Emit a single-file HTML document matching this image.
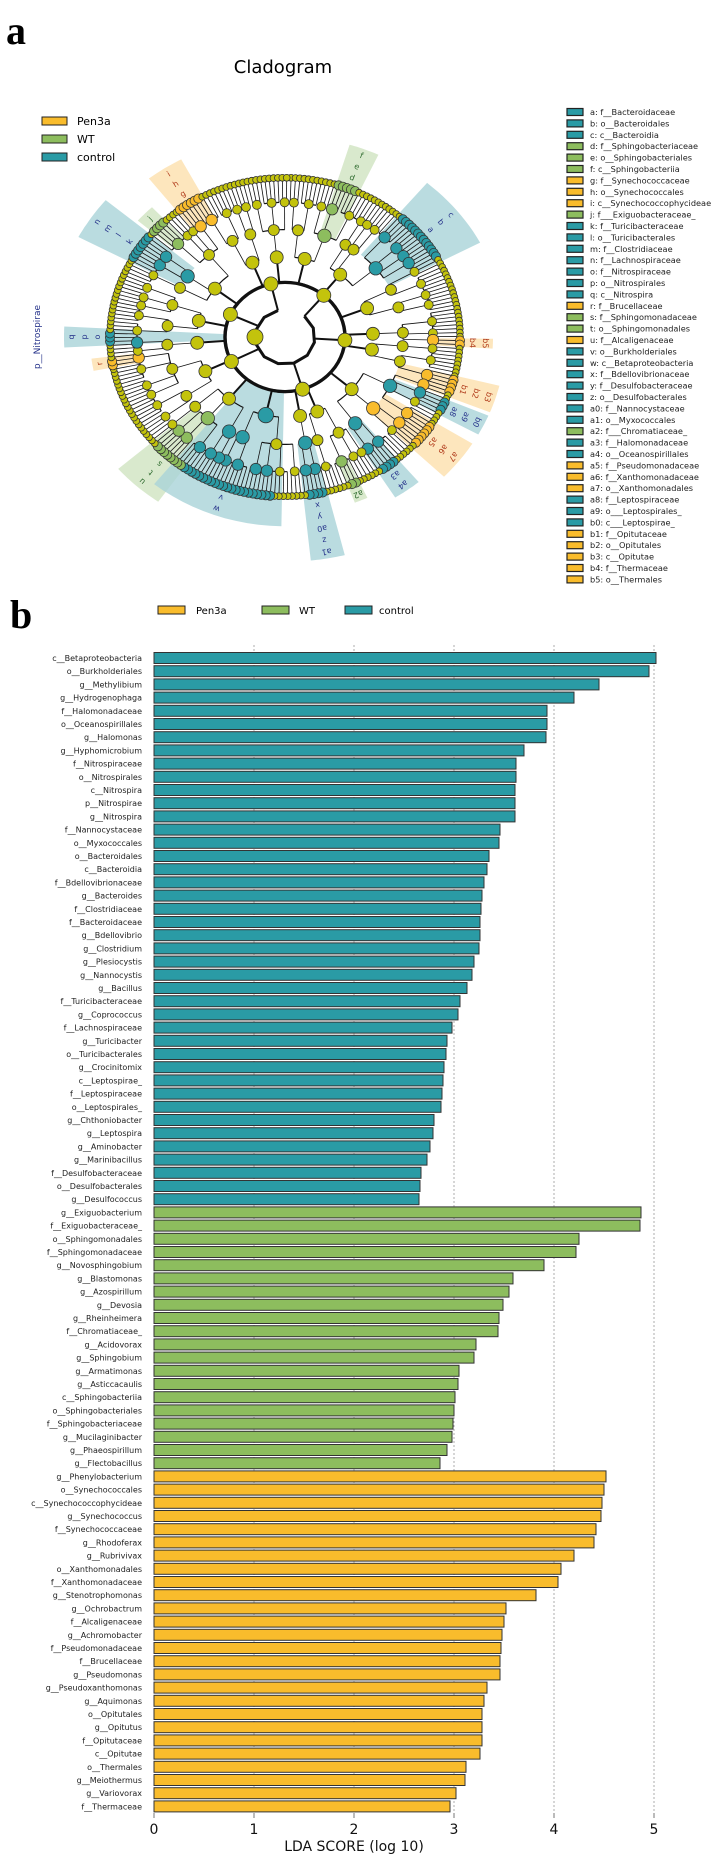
<!DOCTYPE html>
<html><head><meta charset="utf-8"><style>
body{margin:0;background:#fff}
svg{display:block;font-family:"DejaVu Sans","Liberation Sans",sans-serif}
</style></head><body>
<svg id="root" width="720" height="1856" viewBox="0 0 720 1856" xmlns="http://www.w3.org/2000/svg">
<text x="6" y="44" font-family="Liberation Serif,serif" font-weight="bold" font-size="40">a</text>
<text x="283" y="73" text-anchor="middle" font-size="18">Cladogram</text>
<g id="clad"></g>
<g>
<rect x="42" y="117" width="25" height="8" fill="#f9bc2c" stroke="#222"/><text x="77" y="125" font-size="11">Pen3a</text>
<rect x="42" y="135" width="25" height="8" fill="#8dbd5e" stroke="#222"/><text x="77" y="143" font-size="11">WT</text>
<rect x="42" y="153" width="25" height="8" fill="#2a9ba5" stroke="#222"/><text x="77" y="161" font-size="11">control</text>
</g>
<g id="taxleg"></g>
<text x="10" y="628" font-family="Liberation Serif,serif" font-weight="bold" font-size="40">b</text>
<g>
<rect x="158" y="606" width="27" height="8" fill="#f9bc2c" stroke="#222"/><text x="196" y="614" font-size="10">Pen3a</text>
<rect x="262" y="606" width="27" height="8" fill="#8dbd5e" stroke="#222"/><text x="299" y="614" font-size="10">WT</text>
<rect x="345" y="606" width="27" height="8" fill="#2a9ba5" stroke="#222"/><text x="379" y="614" font-size="10">control</text>
</g>
<g id="bars"></g>
</svg>
<script>
// ---------- LDA bar chart data ----------
const taxa = ["c__Betaproteobacteria","o__Burkholderiales","g__Methylibium","g__Hydrogenophaga","f__Halomonadaceae","o__Oceanospirillales","g__Halomonas","g__Hyphomicrobium","f__Nitrospiraceae","o__Nitrospirales","c__Nitrospira","p__Nitrospirae","g__Nitrospira","f__Nannocystaceae","o__Myxococcales","o__Bacteroidales","c__Bacteroidia","f__Bdellovibrionaceae","g__Bacteroides","f__Clostridiaceae","f__Bacteroidaceae","g__Bdellovibrio","g__Clostridium","g__Plesiocystis","g__Nannocystis","g__Bacillus","f__Turicibacteraceae","g__Coprococcus","f__Lachnospiraceae","g__Turicibacter","o__Turicibacterales","g__Crocinitomix","c__Leptospirae_","f__Leptospiraceae","o__Leptospirales_","g__Chthoniobacter","g__Leptospira","g__Aminobacter","g__Marinibacillus","f__Desulfobacteraceae","o__Desulfobacterales","g__Desulfococcus",
"g__Exiguobacterium","f__Exiguobacteraceae_","o__Sphingomonadales","f__Sphingomonadaceae","g__Novosphingobium","g__Blastomonas","g__Azospirillum","g__Devosia","g__Rheinheimera","f__Chromatiaceae_","g__Acidovorax","g__Sphingobium","g__Armatimonas","g__Asticcacaulis","c__Sphingobacteriia","o__Sphingobacteriales","f__Sphingobacteriaceae","g__Mucilaginibacter","g__Phaeospirillum","g__Flectobacillus",
"g__Phenylobacterium","o__Synechococcales","c__Synechococcophycideae","g__Synechococcus","f__Synechococcaceae","g__Rhodoferax","g__Rubrivivax","o__Xanthomonadales","f__Xanthomonadaceae","g__Stenotrophomonas","g__Ochrobactrum","f__Alcaligenaceae","g__Achromobacter","f__Pseudomonadaceae","f__Brucellaceae","g__Pseudomonas","g__Pseudoxanthomonas","g__Aquimonas","o__Opitutales","g__Opitutus","f__Opitutaceae","c__Opitutae","o__Thermales","g__Meiothermus","g__Variovorax","f__Thermaceae"];
const ldaScores = [5.02,4.95,4.45,4.2,3.93,3.93,3.92,3.7,3.62,3.62,3.61,3.61,3.61,3.46,3.45,3.35,3.33,3.3,3.28,3.27,3.26,3.26,3.25,3.2,3.18,3.13,3.06,3.04,2.98,2.93,2.92,2.9,2.89,2.88,2.87,2.8,2.79,2.76,2.73,2.67,2.66,2.65,
4.87,4.86,4.25,4.22,3.9,3.59,3.55,3.49,3.45,3.44,3.22,3.2,3.05,3.04,3.01,3.0,2.99,2.98,2.93,2.86,
4.52,4.5,4.48,4.47,4.42,4.4,4.2,4.07,4.04,3.82,3.52,3.5,3.48,3.47,3.46,3.46,3.33,3.3,3.28,3.28,3.28,3.26,3.12,3.11,3.02,2.96];
const groupSizes = [42,20,26];
const groupNames = ["control","WT","Pen3a"];
const xTicks = [0,1,2,3,4,5];

// ---------- Cladogram taxa legend ----------
const legendKeys = ["a","b","c","d","e","f","g","h","i","j","k","l","m","n","o","p","q","r","s","t","u","v","w","x","y","z","a0","a1","a2","a3","a4","a5","a6","a7","a8","a9","b0","b1","b2","b3","b4","b5"];
const legendTaxa = ["f__Bacteroidaceae","o__Bacteroidales","c__Bacteroidia","f__Sphingobacteriaceae","o__Sphingobacteriales","c__Sphingobacteriia","f__Synechococcaceae","o__Synechococcales","c__Synechococcophycideae","f___Exiguobacteraceae_","f__Turicibacteraceae","o__Turicibacterales","f__Clostridiaceae","f__Lachnospiraceae","f__Nitrospiraceae","o__Nitrospirales","c__Nitrospira","f__Brucellaceae","f__Sphingomonadaceae","o__Sphingomonadales","f__Alcaligenaceae","o__Burkholderiales","c__Betaproteobacteria","f__Bdellovibrionaceae","f__Desulfobacteraceae","o__Desulfobacterales","f__Nannocystaceae","o__Myxococcales","f___Chromatiaceae_","f__Halomonadaceae","o__Oceanospirillales","f__Pseudomonadaceae","f__Xanthomonadaceae","o__Xanthomonadales","f__Leptospiraceae","o___Leptospirales_","c___Leptospirae_","f__Opitutaceae","o__Opitutales","c__Opitutae","f__Thermaceae","o__Thermales"];
const legendGroups = ["C","C","C","W","W","W","P","P","P","W","C","C","C","C","C","C","C","P","W","W","P","C","C","C","C","C","C","C","W","C","C","P","P","P","C","C","C","P","P","P","P","P"];

const cladeAngles = [-39,-69,-123,-136,-146,180,171,132,110,80,67,54,38,26,18,2];
const cladeHalf = [11,4,5,3,6,3,2,7,19,4,2,4,6,3,4,1.5];
const cladeStart = [118,118,148,148,118,60,148,118,60,118,148,118,118,118,118,148];
const cladeGroup = ["C","W","P","W","C","C","P","W","C","C","W","C","P","C","P","P"];
const cladeLabels = [["a","b","c"],["d","e","f"],["g","h","i"],["j"],["k","l","m","n"],["o","p","q"],["r"],["s","t","u"],["v","w"],["x","y","a0","z","a1"],["a2"],["a3","a4"],["a5","a6","a7"],["a8","a9","b0"],["b1","b2","b3"],["b4","b5"]];

const fillC = {C:"#2a9ba5",W:"#8dbd5e",P:"#f9bc2c"};
const lightC = {C:"#a9d3d8",W:"#cfe3c0",P:"#fde0ad"};
const textC = {C:"#27348b",W:"#2e6b2e",P:"#b03a1a"};
const NS="http://www.w3.org/2000/svg";
function mk(tag,attrs,parent){const e=document.createElementNS(NS,tag);for(const k in attrs)e.setAttribute(k,attrs[k]);parent.appendChild(e);return e;}

const tl=document.getElementById('taxleg');
legendKeys.forEach((k,i)=>{
  const y=112+i*11.4;
  const r=mk('rect',{x:567,y:y-3.5,width:16,height:7,fill:fillC[legendGroups[i]],stroke:"#222","stroke-width":1.2},tl);
  
  
  const t=mk('text',{x:590,y:y+3,"font-size":8.2,fill:"#222"},tl);
  t.textContent=k+": "+legendTaxa[i];
  
  
});

const cl=document.getElementById('clad');
const cx=285, cy=337, sy=0.91;
function P(r,a){const t=a*Math.PI/180;return [cx+r*Math.cos(t), cy+sy*r*Math.sin(t)];}
function sector(r0,r1,a0,a1){let pts=[];for(let a=a0;a<=a1+0.01;a+=(a1-a0)/12)pts.push(P(r1,a));for(let a=a1;a>=a0-0.01;a-=(a1-a0)/12)pts.push(P(r0,a));return pts.map(p=>p[0].toFixed(1)+","+p[1].toFixed(1)).join(" ");}
const hl=mk('g',{},cl);
cladeAngles.forEach((ac,i)=>{
  const h=cladeHalf[i], n=cladeLabels[i].length;
  const outer=182+n*13;
  const p=mk('polygon',{points:sector(cladeStart[i],outer,ac-h,ac+h),fill:lightC[cladeGroup[i]],opacity:0.8},hl);
  
  
  cladeLabels[i].forEach((lb,j)=>{
    const q=P(188+j*13,ac);
    const t=mk('text',{x:q[0],y:q[1]+3,"font-size":8,"text-anchor":"middle",fill:textC[cladeGroup[i]],transform:`rotate(${ac+90} ${q[0]} ${q[1]})`},hl);
    t.textContent=lb;
    
    
  });
});
{const q=P(245,180);const t=mk('text',{x:q[0],y:q[1],"font-size":9,"text-anchor":"middle",fill:"#27348b",transform:`rotate(-90 ${q[0]} ${q[1]})`},hl);t.textContent="p__Nitrospirae";

}
function groupAt(a){for(let i=0;i<cladeAngles.length;i++){let d=((a-cladeAngles[i])%360+540)%360-180;if(Math.abs(d)<=cladeHalf[i]*0.8)return {g:cladeGroup[i],s:cladeStart[i]};}return null;}
const radii=[175,148,118,88,60,30];
const pats=[[3,5,2,4,6,1,3,2,5,4,2,3],[2,3,1,2,4,2],[2,3,2,1],[3,2,4],[99]];
let level=[];const N=250;
for(let i=0;i<N;i++)level.push(i*360/N-88);
const lines=mk('g',{stroke:"#111","stroke-width":0.8,fill:"none"},cl);
const nodes=mk('g',{stroke:"#333","stroke-width":0.8},cl);
let allNodes=[];
level.forEach(a=>allNodes.push([175,a,3.4]));
for(let L=0;L<5;L++){
  const pat=pats[L];let next=[];let i=0,k=0;
  while(i<level.length){const sz=Math.min(pat[k%pat.length],level.length-i);const ch=level.slice(i,i+sz);const pa=ch.reduce((s,v)=>s+v,0)/sz;
    const rP=radii[L+1], rC=radii[L];
    ch.forEach(a=>{const p1=P(rC,a),p2=P(rP,a);mk('line',{x1:p1[0],y1:p1[1],x2:p2[0],y2:p2[1],"stroke-width":L>2?2:0.8},lines);});
    if(sz>1){let d="";for(let a=ch[0];a<=ch[sz-1]+0.01;a+=(ch[sz-1]-ch[0])/10){const p=P(rP,a);d+=(d?"L":"M")+p[0].toFixed(1)+","+p[1].toFixed(1);}mk('path',{d:d,"stroke-width":L>2?3:1.2},lines);}
    next.push(pa);i+=sz;k++;}
  level=next;
  if(L<4)level.forEach(a=>allNodes.push([radii[L+1],a,[4.5,5.5,6.5,7][L]]));
}
mk('circle',{cx:cx,cy:cy,r:60,"stroke-width":3.5,fill:"none",transform:`translate(0 ${cy*(1-sy)}) scale(1 ${sy})`},lines);
allNodes.forEach(n=>{const p=P(n[0],n[1]);const g=groupAt(n[1]);let f="#c3c30c",r=n[2];
  if(g&&n[0]>=g.s){f=fillC[g.g];r+=1.2;}
  mk('circle',{cx:p[0].toFixed(1),cy:p[1].toFixed(1),r:r,fill:f},nodes);});
{const p=P(30,180);mk('circle',{cx:p[0],cy:p[1],r:8,fill:"#c3c30c"},nodes);}

const bg=document.getElementById('bars');
const x0=154, xu=100, y0=658, pitch=13.2, bh=11;
const X=v=>x0+v*xu, Y=i=>y0+i*pitch;
const grp=[];groupSizes.forEach((s,g)=>{for(let i=0;i<s;i++)grp.push(groupNames[g]);});
const gcol={control:"#2a9ba5",WT:"#8dbd5e",Pen3a:"#f9bc2c"};
xTicks.forEach(v=>{
  if(v>0){const l=mk('line',{x1:X(v),x2:X(v),y1:645,y2:1812,stroke:"#999","stroke-dasharray":"2,2","stroke-width":0.8},bg);
  
  }
  mk('line',{x1:X(v),x2:X(v),y1:1813,y2:1818,stroke:"#777"},bg);
  const t=mk('text',{x:X(v),y:1834,"font-size":14,"text-anchor":"middle",fill:"#111"},bg);t.textContent=v;
  
  
});
taxa.forEach((name,i)=>{
  const r=mk('rect',{x:X(0),y:Y(i)-bh/2,width:X(ldaScores[i])-X(0),height:bh,fill:gcol[grp[i]],stroke:"#333","stroke-width":1},bg);
  
  
  const t=mk('text',{x:142,y:Y(i)+3,"font-size":8,"text-anchor":"end",fill:"#222"},bg);t.textContent=name;
  
  
});
{const t=mk('text',{x:354,y:1851,"font-size":14,"text-anchor":"middle",fill:"#111"},bg);t.textContent="LDA SCORE (log 10)";

}
</script>
</body></html>
